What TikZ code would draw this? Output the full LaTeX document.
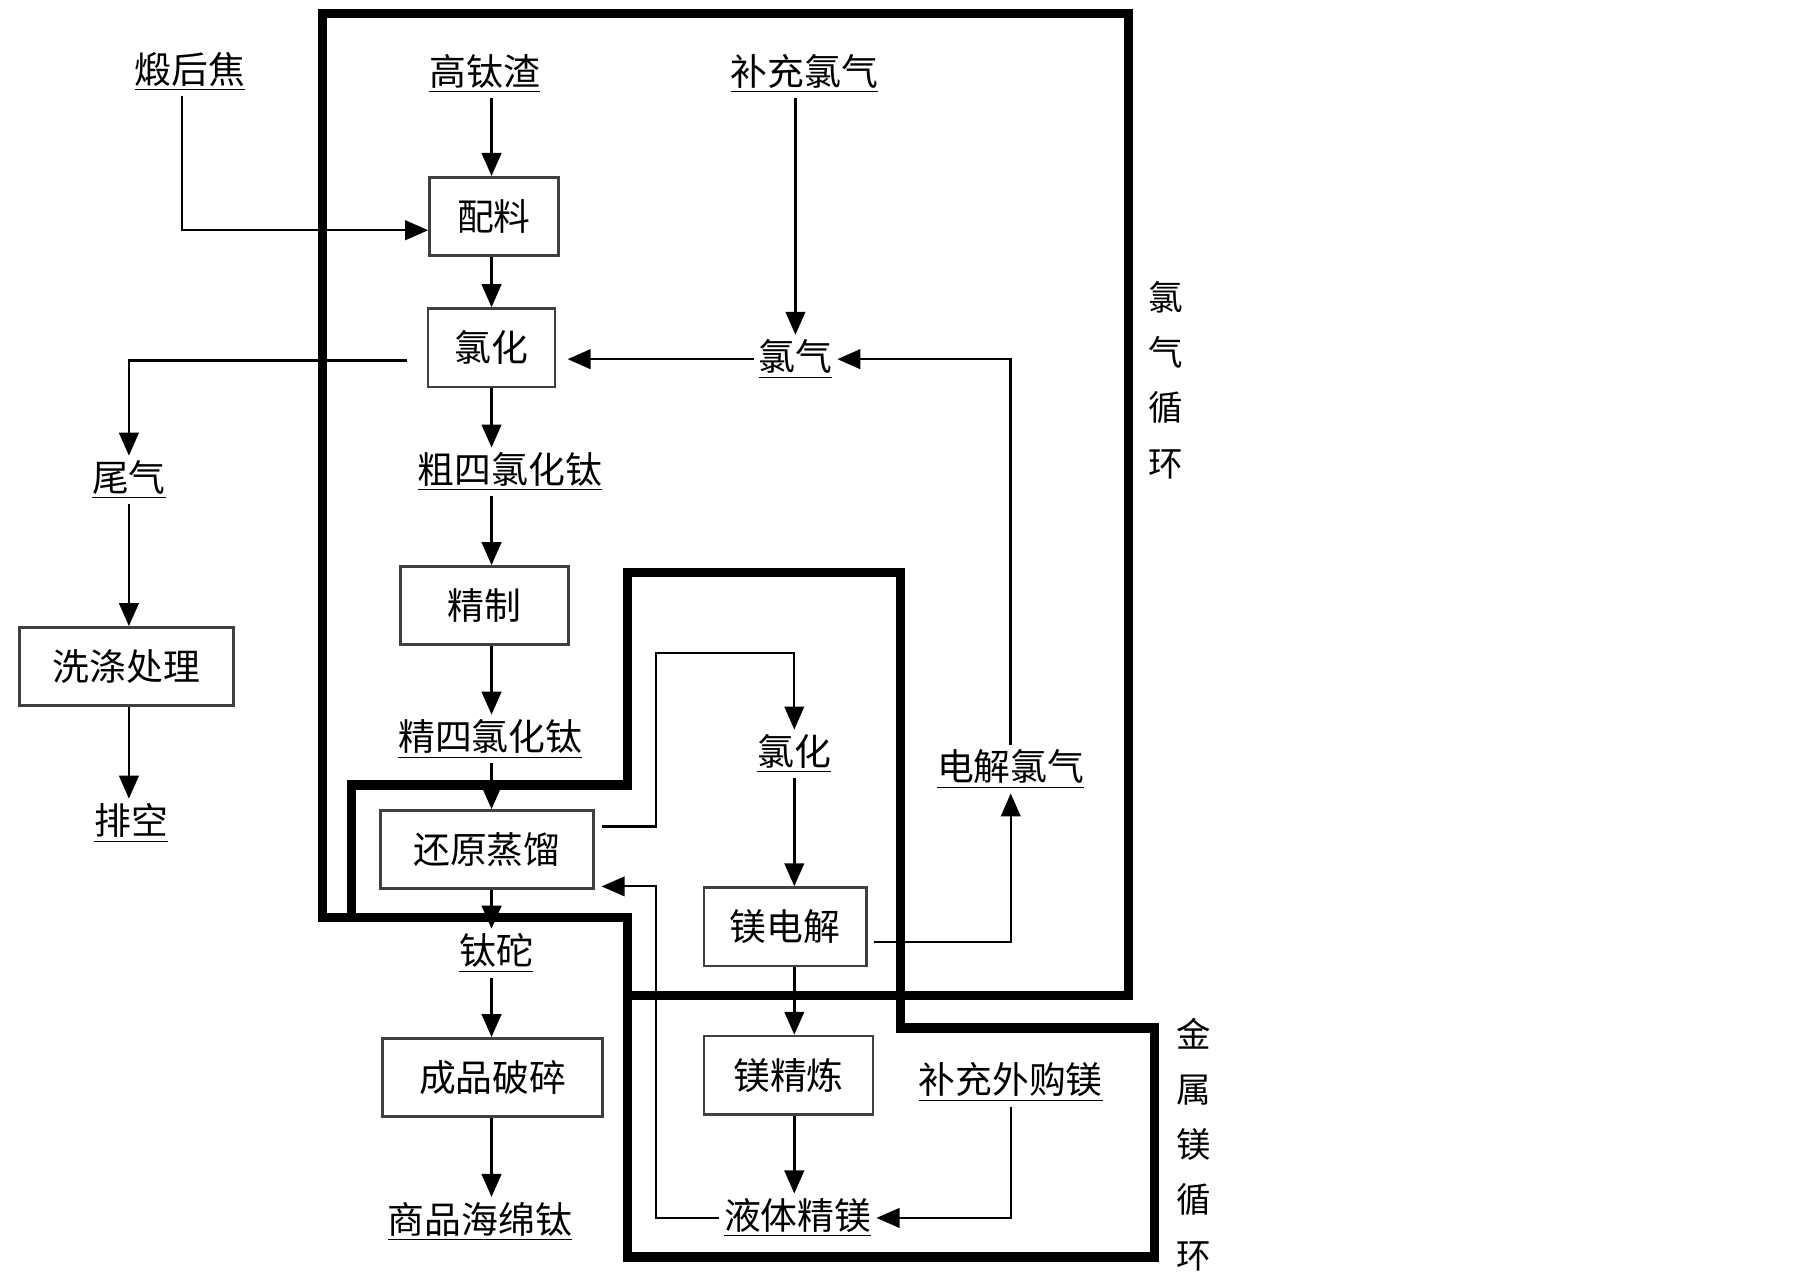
\documentclass[tikz,border=0pt]{standalone}
\usepackage{fontspec}
\newfontfamily\cjk{Noto Sans CJK SC}
\usetikzlibrary{arrows.meta}

\begin{document}
\begin{tikzpicture}[x=0.5pt, y=-0.5pt,
lbl/.style={font=\cjk\fontsize{16}{18}\selectfont, inner sep=2pt},
box/.style={lbl, draw=black!75, line width=1.1pt, minimum height=34pt, minimum width=#1},
arr/.style={-{Triangle[length=10pt,width=8.5pt]}, line width=1.1pt},
mgline/.style={line width=0.9pt},
loopline/.style={line width=4pt, line join=miter},
side/.style={font=\cjk\fontsize{15}{24}\selectfont, align=center, inner sep=0pt}
]
\useasboundingbox (0,0) rectangle (1568,1118);
\coordinate (colx) at (427,0);
\coordinate (colm) at (690,0);
\coordinate (colb) at (570,0);

% recycle loops
\draw[loopline] (280,12) -- (980,12) -- (980,865) -- (545,865) -- (545,797) -- (280,797) -- cycle;
\draw[loopline] (305,682) -- (545,682) -- (545,497) -- (782,497) -- (782,893) -- (1003,893)
  -- (1003,1092) -- (545,1092) -- (545,797) -- (305,797) -- cycle;
\node[side] (qlxh) at (1013,330) {氯\\气\\循\\环};
\node[side] (jsmxh) at (1037,994) {金\\属\\镁\\循\\环};

% titanium line
\node[lbl] (dhj) at (165,62) {\underline{煅后焦}};
\node[lbl] (gts) at (421,64) {\underline{高钛渣}};
\node[lbl] (bcql) at (699,64) {\underline{补充氯气}};
\node[box=56pt] (pl) at (429,188) {配料};
\node[box=55pt] (lh) at (427,302) {氯化};
\node[lbl] (ql) at (691,312) {\underline{氯气}};
\node[lbl] (cslht) at (443,410) {\underline{粗四氯化钛}};
\node[box=73pt] (jz) at (421,526) {精制};
\node[lbl] (jslht) at (426,642) {\underline{精四氯化钛}};
\node[box=92.5pt] (hyzl) at (423,738) {还原蒸馏};
\node[lbl] (tt) at (431,828) {\underline{钛砣}};
\node[box=95.5pt] (cppz) at (428,936) {成品破碎};
\node[lbl] (sphmt) at (417,1061) {\underline{商品海绵钛}};

% tail gas
\node[lbl] (wq) at (112,417) {\underline{尾气}};
\node[box=93pt] (xdcl) at (110,579) {洗涤处理};
\node[lbl] (pk) at (114,715) {\underline{排空}};

% magnesium line
\node[lbl] (mglh) at (690,655) {\underline{氯化}};
\node[box=70.5pt] (mdj) at (682,805) {镁电解};
\node[box=73.5pt] (mjl) at (685,934) {镁精炼};
\node[lbl] (ytjm) at (693,1058) {\underline{液体精镁}};
\node[lbl] (bcwgm) at (878,940) {\underline{补充外购镁}};
\node[lbl] (djql) at (878,668) {\underline{电解氯气}};

\draw[arr] (gts.south -| colx) -- (pl.north -| colx);
\draw[arr] ([xshift=-3.5pt]dhj.south) |- ([yshift=-6pt]pl.west);
\draw[arr] (pl.south -| colx) -- (lh.north -| colx);
\draw[arr] (lh.south -| colx) -- (cslht.north -| colx);
\draw[arr] (cslht.south -| colx) -- (jz.north -| colx);
\draw[arr] (jz.south -| colx) -- (jslht.north -| colx);
\draw[arr] (jslht.south -| colx) -- (hyzl.north -| colx);
\draw[arr] (hyzl.south -| colx) -- (tt.north -| colx);
\draw[arr] (tt.south -| colx) -- (cppz.north -| colx);
\draw[arr] (cppz.south -| colx) -- (sphmt.north -| colx);

\draw[arr] ([yshift=-5.5pt,xshift=-8.5pt]lh.west) -| (wq.north);
\draw[arr] (wq.south) -- (wq |- xdcl.north);
\draw[arr] (wq |- xdcl.south) -- (wq |- pk.north);

\draw[arr] (ql.north |- bcql.south) -- (ql.north);
\draw[arr, shorten >=5pt] (ql.west) -- (ql.west -| lh.east);
\draw[arr] (djql.north) |- (ql.east);

\draw[arr, mgline, shorten <=3pt] ([yshift=10pt]hyzl.east) -| (colb |- 0,567) -| (mglh.north);
\draw[arr] (mglh.south -| colm) -- (mdj.north -| colm);
\draw[arr] (mdj.south -| colm) -- (mjl.north -| colm);
\draw[arr] (mjl.south -| colm) -- (ytjm.north -| colm);
\draw[arr, mgline, shorten >=3pt] (ytjm.west) -| (colb |- 0,770) -- ([yshift=-16pt]hyzl.east);
\draw[arr, mgline, shorten <=3pt] ([yshift=-6.5pt]mdj.east) -| (djql.south);
\draw[arr, mgline] (bcwgm.south) |- (ytjm.east);
\end{tikzpicture}
\end{document}
